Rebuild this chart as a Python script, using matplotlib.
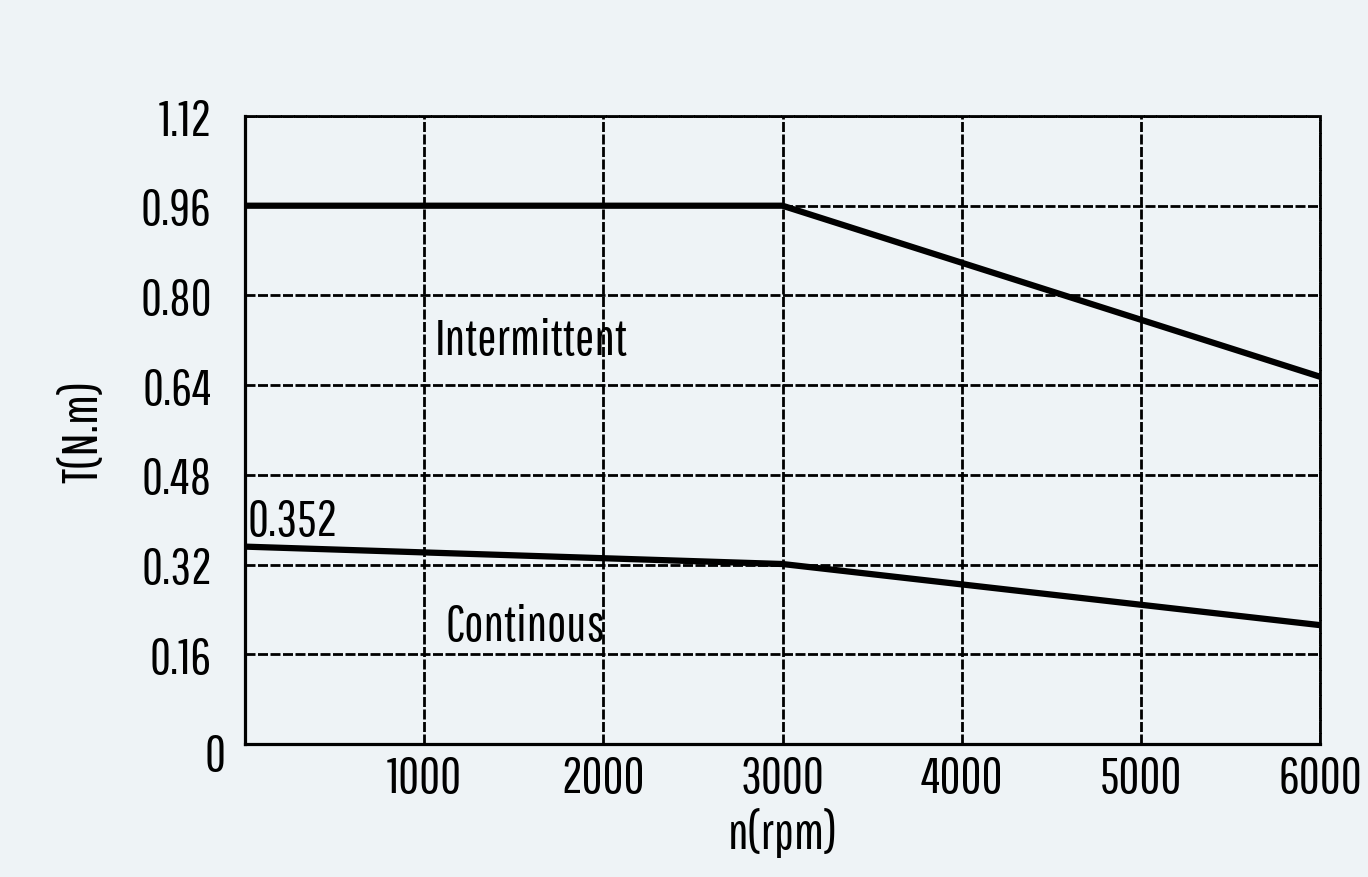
import matplotlib
matplotlib.use("Agg")
import matplotlib.pyplot as plt
from matplotlib import font_manager
from matplotlib.transforms import ScaledTranslation

BG = "#eef3f6"

speed_rpm = [0, 3000, 6000]
intermittent_nm = [0.96, 0.96, 0.655]
continuous_nm = [0.352, 0.321, 0.212]

x_ticks = [1000, 2000, 3000, 4000, 5000, 6000]
y_ticks = [0, 0.16, 0.32, 0.48, 0.64, 0.80, 0.96, 1.12]
y_labels = ["0", "0.16", "0.32", "0.48", "0.64", "0.80", "0.96", "1.12"]

# narrow monoline font looks closest to the CAD lettering; fall back if absent
names = {f.name for f in font_manager.fontManager.ttflist}
if "Pathway Gothic One" in names:
    plt.rcParams["font.family"] = ["Pathway Gothic One", "DejaVu Sans"]
    FS = 37
else:
    plt.rcParams["font.family"] = ["DejaVu Sans"]
    FS = 26

GRID_LS = (0, (3.6, 0.9))

fig = plt.figure(figsize=(13.68, 8.78), dpi=100, facecolor=BG)
ax = fig.add_axes([245 / 1368, 133 / 878, 1075 / 1368, 628 / 878])
ax.set_facecolor(BG)

ax.plot(speed_rpm, intermittent_nm, color="black", lw=4.5, solid_capstyle="butt", zorder=4, clip_on=False)
ax.plot(speed_rpm, continuous_nm, color="black", lw=4.5, solid_capstyle="butt", zorder=4, clip_on=False)

ax.set_xlim(0, 6000)
ax.set_ylim(0, 1.12)
ax.set_xticks(x_ticks)
ax.set_yticks(y_ticks)
ax.set_yticklabels(y_labels)
ax.tick_params(length=0, labelsize=FS, pad=24)
ax.tick_params(axis="x", pad=8)

# the "0" label sits a little right of and below the others in the source
zero = ax.get_yticklabels()[0]
zero.set_transform(zero.get_transform() + ScaledTranslation(0.14, -0.08, fig.dpi_scale_trans))

ax.grid(True, color="black", lw=2.0, ls=GRID_LS)
for side in ("top", "right"):
    ax.spines[side].set_linestyle(GRID_LS)
    ax.spines[side].set_linewidth(2.0)
for side in ("left", "bottom"):
    ax.spines[side].set_linewidth(2.3)

ax.set_xlabel("n(rpm)", fontsize=FS, labelpad=4)
ax.set_ylabel("T(N.m)", fontsize=FS, labelpad=24)

ax.text(1060, 0.72, "Intermittent", fontsize=FS, ha="left", va="center")
ax.text(1120, 0.21, "Continous", fontsize=FS, ha="left", va="center")
ax.text(15, 0.357, "0.352", fontsize=FS, ha="left", va="bottom")

fig.savefig("out.png", dpi=100, facecolor=BG)
